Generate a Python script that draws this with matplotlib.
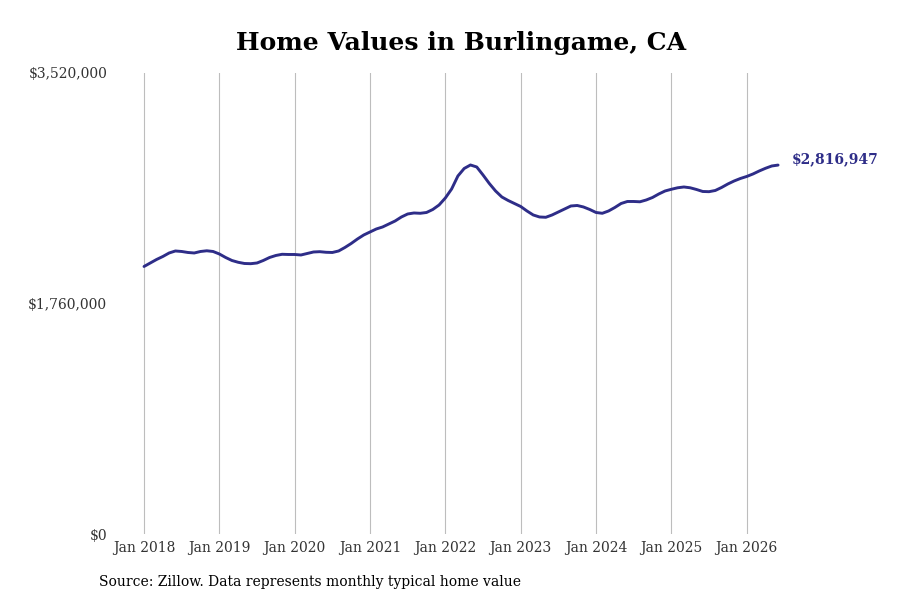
import matplotlib
matplotlib.use("Agg")
import matplotlib.pyplot as plt
import numpy as np

# Monthly typical home value, Jan 2018 .. Jun 2026
values = [
    2042630, 2069356, 2096082, 2118990, 2145716, 2160988, 2157170, 2149534, 2145716, 2157170, 2162515, 2157170,
    2138080, 2111354, 2088446, 2074701, 2065538, 2064011, 2069356, 2088446, 2111354, 2126626, 2135789, 2134262,
    2134262, 2130444, 2141898, 2153352, 2155643, 2151061, 2149534, 2160988, 2187714, 2218258, 2252620, 2283164,
    2306072, 2328980, 2344252, 2367160, 2390068, 2420612, 2443520, 2451156, 2448865, 2454974, 2477882, 2512244,
    2565696, 2634420, 2733688, 2790958, 2817684, 2802412, 2741324, 2676418, 2619148, 2573332, 2546606, 2523698,
    2500790, 2466428, 2435884, 2420612, 2418321, 2435884, 2458792, 2481700, 2504608, 2508426, 2496972, 2477882,
    2454974, 2448865, 2466428, 2493154, 2523698, 2538970, 2538970, 2536679, 2550424, 2569514, 2596240, 2619148,
    2632129, 2643583, 2649692, 2643583, 2630602, 2615330, 2613803, 2622966, 2645874, 2672600, 2695508, 2714598,
    2729870, 2748960, 2771868, 2792485, 2810048, 2816947,
]
tick_labels = ["Jan 2018", "Jan 2019", "Jan 2020", "Jan 2021", "Jan 2022",
               "Jan 2023", "Jan 2024", "Jan 2025", "Jan 2026"]
y_ticks = [0, 1760000, 3520000]
y_tick_labels = ["$0", "$1,760,000", "$3,520,000"]
end_label = "$2,816,947"
title = "Home Values in Burlingame, CA"
source = "Source: Zillow. Data represents monthly typical home value"

LINE = "#2e2d88"
plt.rcParams["font.family"] = ["DejaVu Serif"]

fig = plt.figure(figsize=(9, 6), dpi=100)
ax = fig.add_axes([112/900, 66/600, 678/900, 461/600])

months = np.arange(len(values))
ax.plot(months, values, color=LINE, lw=2.1, solid_capstyle="round",
        solid_joinstyle="round")

ax.set_xlim(-5.1, 102.9)
ax.set_ylim(0, 3520000)
ax.set_xticks(np.arange(0, 12 * len(tick_labels), 12))
ax.set_xticklabels(tick_labels, fontsize=10, color="#333333")
ax.set_yticks(y_ticks)
ax.set_yticklabels(y_tick_labels, fontsize=10, color="#333333")
ax.tick_params(axis="both", length=0)
ax.tick_params(axis="x", pad=5)
ax.tick_params(axis="y", pad=3.5)
ax.grid(axis="x", color="#bdbdbd", lw=0.8)
ax.grid(axis="y", visible=False)
for s in ax.spines.values():
    s.set_visible(False)

ax.annotate(end_label, xy=(months[-1], values[-1]), xytext=(10, 4),
            textcoords="offset points", color=LINE, fontsize=10,
            fontweight="bold", va="center", ha="left", annotation_clip=False)

fig.text(0.512, 0.928, title, ha="center", va="center", fontsize=18, fontweight="bold")
fig.text(99/900, 1 - 582/600, source, ha="left", va="center", fontsize=10, color="black")

fig.savefig("out.png", dpi=100, facecolor="white")
